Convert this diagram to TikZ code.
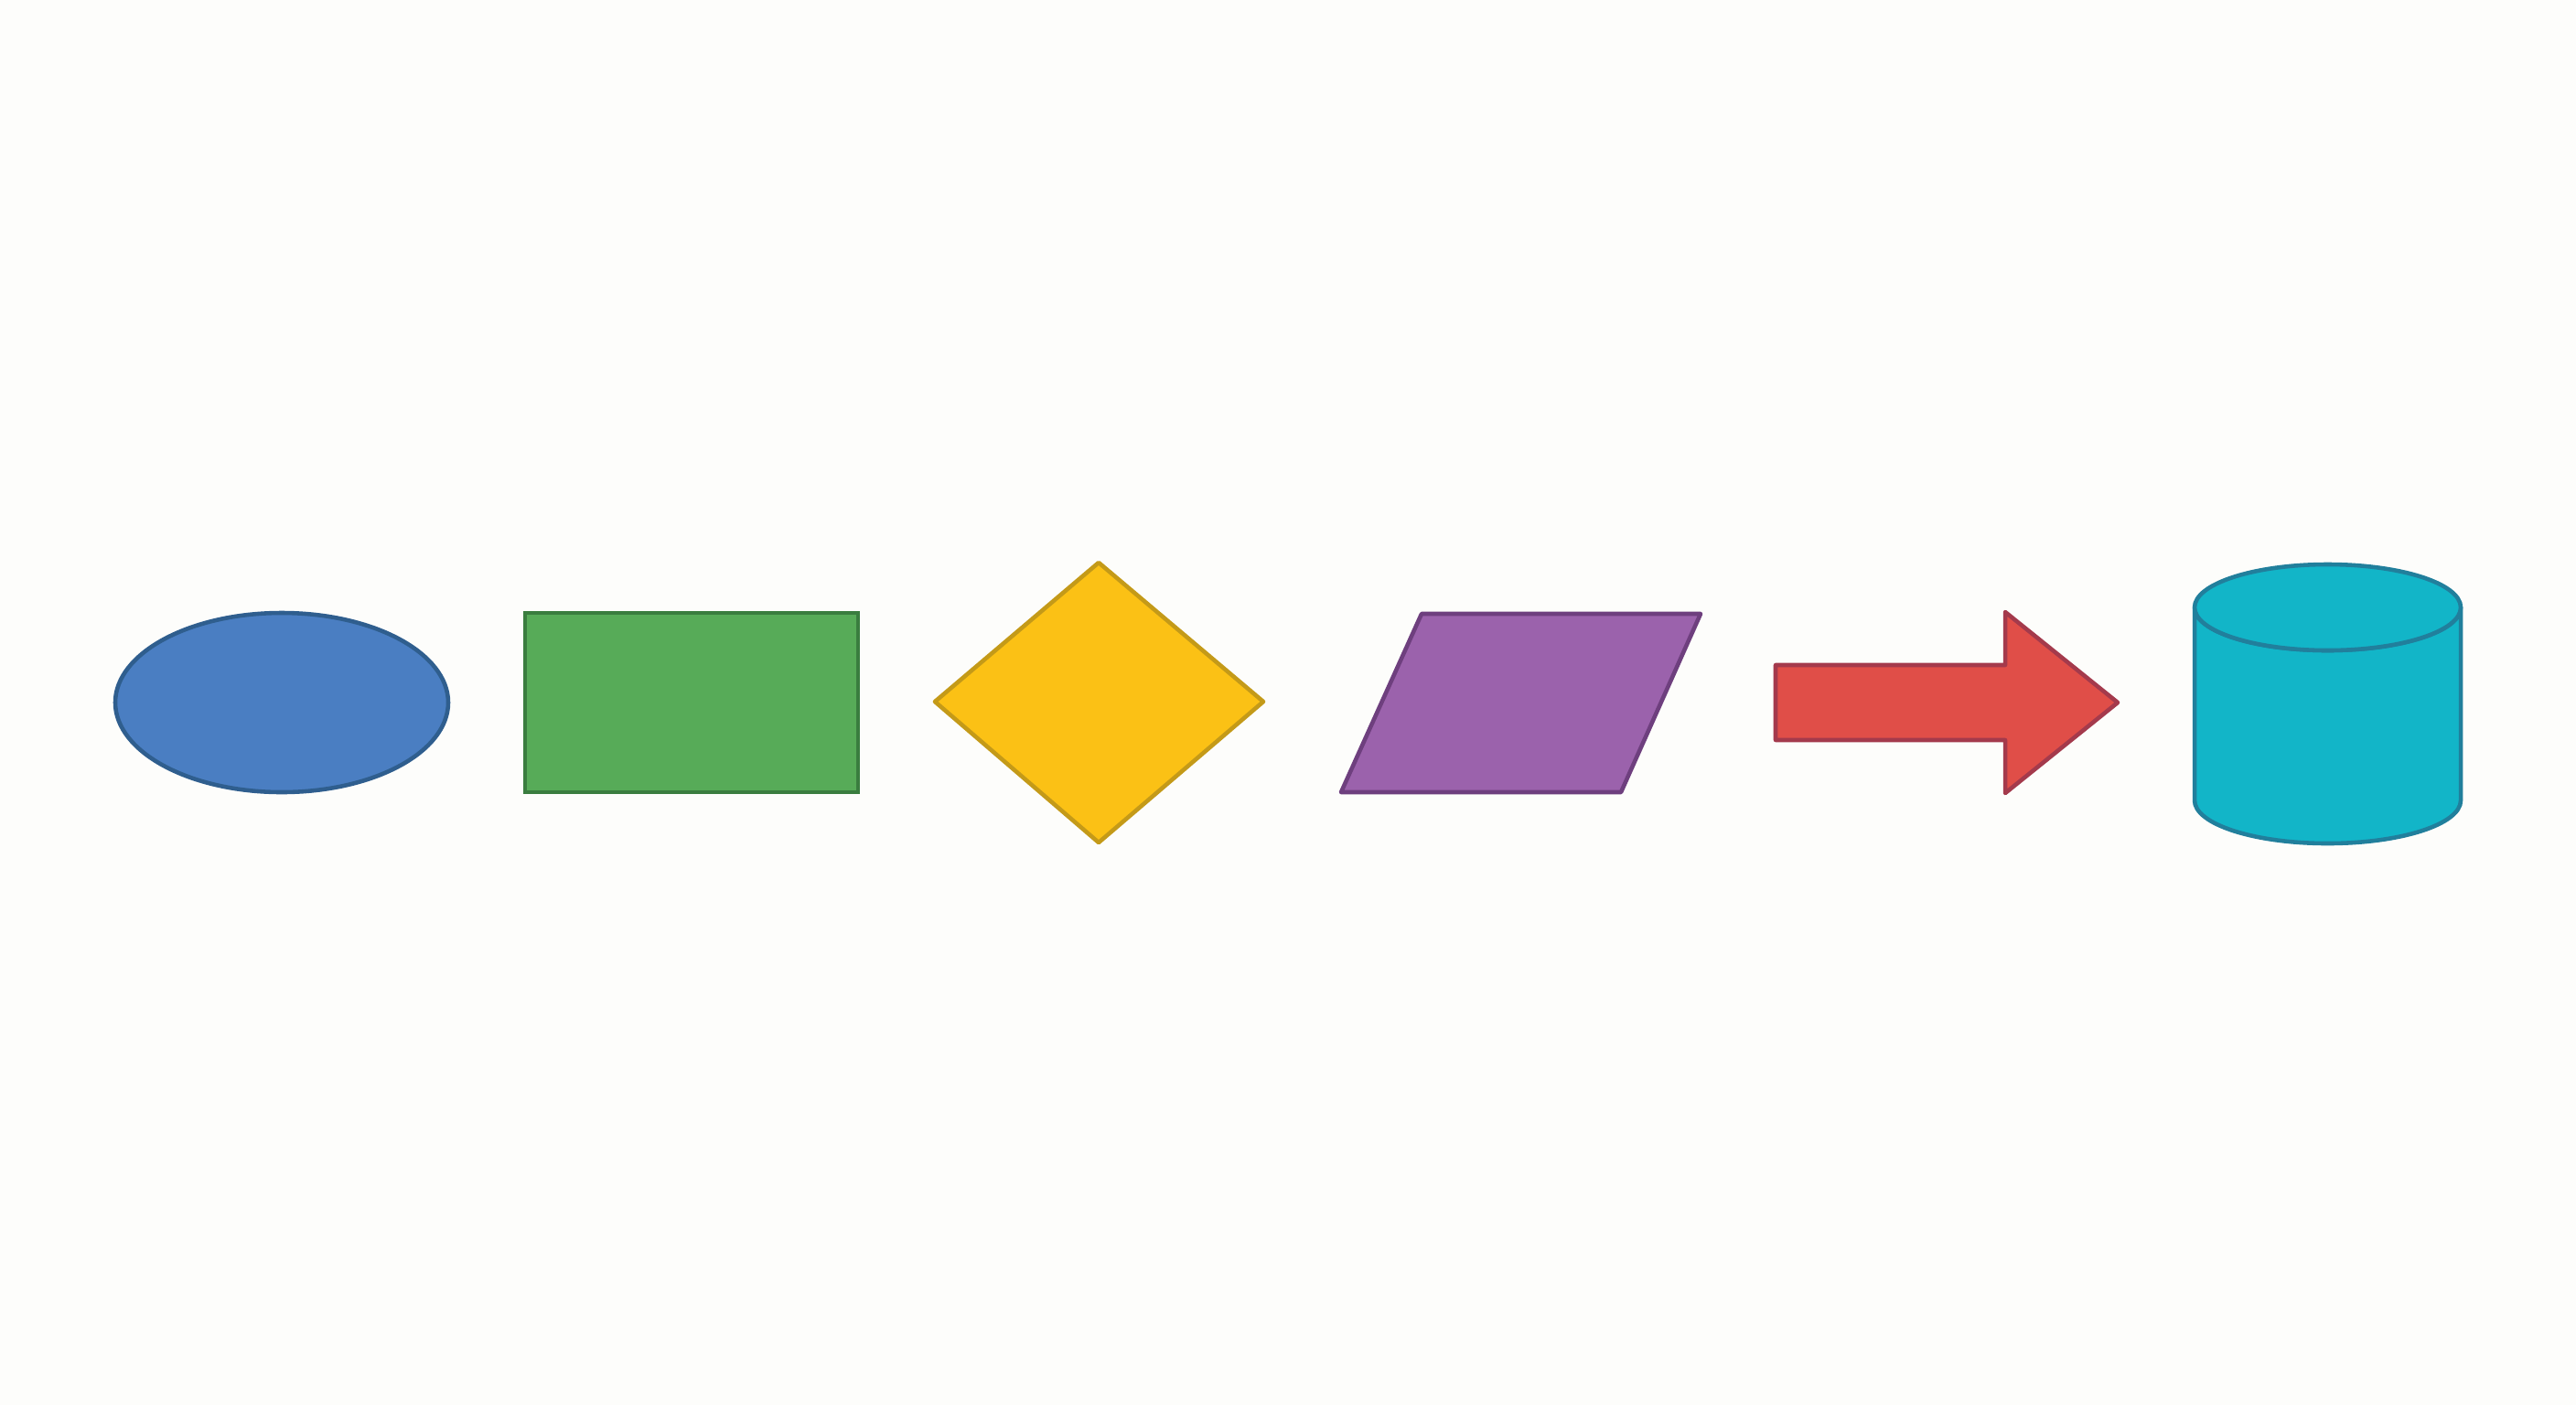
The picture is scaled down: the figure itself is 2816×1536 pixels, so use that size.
\documentclass[tikz,border=0pt]{standalone}
\definecolor{bg}{HTML}{FDFDFB}
\definecolor{ellF}{HTML}{4A7EC2}\definecolor{ellD}{HTML}{2F5E8E}
\definecolor{recF}{HTML}{57AB58}\definecolor{recD}{HTML}{3A7D3F}
\definecolor{diaF}{HTML}{FBC115}\definecolor{diaD}{HTML}{C49A18}
\definecolor{parF}{HTML}{9B62AC}\definecolor{parD}{HTML}{6E3F7E}
\definecolor{arrF}{HTML}{E04E48}\definecolor{arrD}{HTML}{A43A4C}
\definecolor{cylF}{HTML}{12B5C8}\definecolor{cylD}{HTML}{217F9C}
\tikzset{
  shp/.style={line width=1.3pt, line join=round},
  ellshape/.style={shp, fill=ellF, draw=ellD},
  recshape/.style={shp, fill=recF, draw=recD, line join=miter},
  diashape/.style={shp, fill=diaF, draw=diaD},
  parshape/.style={shp, fill=parF, draw=parD},
  arrshape/.style={shp, fill=arrF, draw=arrD},
  cylshape/.style={shp, fill=cylF, draw=cylD},
}
\begin{document}
\begin{tikzpicture}[x=0.01cm,y=-0.01cm]
\fill[bg] (0,0) rectangle (2816,1536);
\useasboundingbox (0,0) rectangle (2816,1536);
% ellipse
\filldraw[ellshape] (308,768) ellipse [x radius=182, y radius=98];
% rectangle
\filldraw[recshape] (574,670) rectangle (938,866);
% diamond
\filldraw[diashape] (1022,767) -- (1201,615) -- (1381,767) -- (1201,921) -- cycle;
% parallelogram
\filldraw[parshape] (1554,671) -- (1859,671) -- (1772,866) -- (1466,866) -- cycle;
% block arrow
\filldraw[arrshape] (1941,727) -- (2192,727) -- (2192,669) -- (2315,768) -- (2192,867) -- (2192,809) -- (1941,809) -- cycle;
% cylinder
\filldraw[cylshape] (2399,664) -- (2399,875)
  arc [start angle=180, end angle=0, x radius=145.5, y radius=47]
  -- (2690,664)
  arc [start angle=0, end angle=180, x radius=145.5, y radius=47] -- cycle;
\filldraw[cylshape] (2544.5,664) ellipse [x radius=145.5, y radius=47];
\end{tikzpicture}
\end{document}
